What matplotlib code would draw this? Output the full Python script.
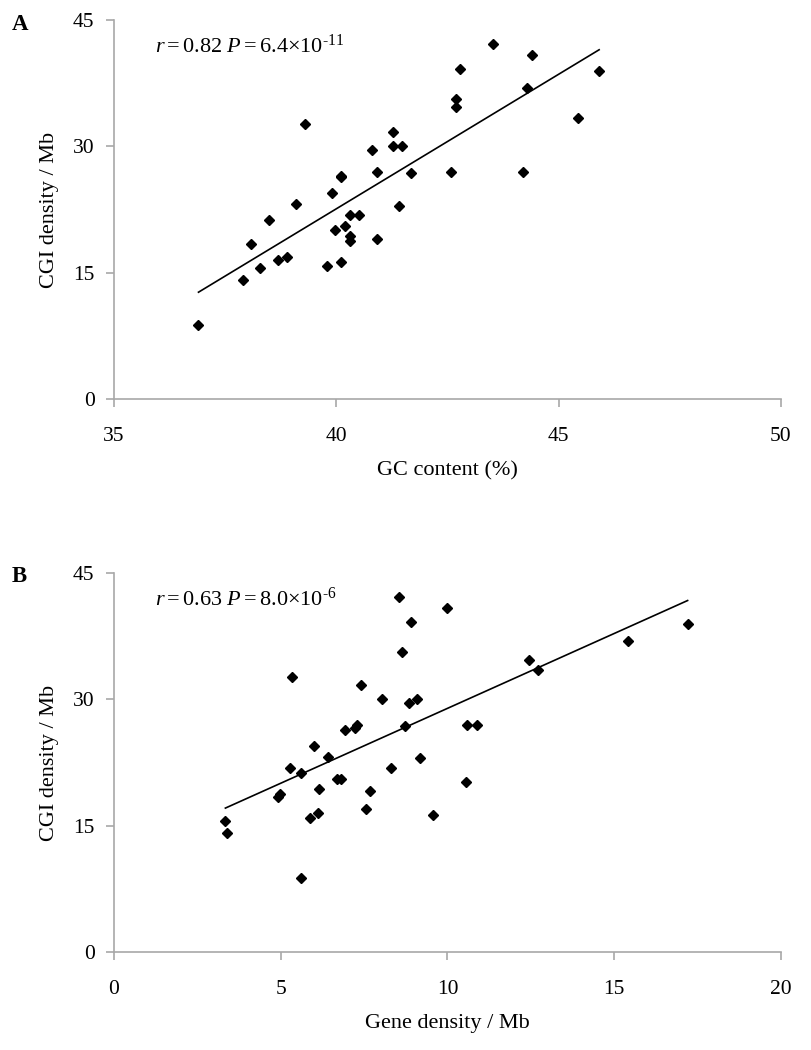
import numpy as np
import matplotlib
matplotlib.use('Agg')
import matplotlib.pyplot as plt

plt.rcParams['font.family'] = ['Liberation Serif', 'DejaVu Serif']
plt.rcParams['mathtext.fontset'] = 'custom'
plt.rcParams['mathtext.rm'] = 'Liberation Serif'
plt.rcParams['mathtext.it'] = 'Liberation Serif:italic'

# ── 데이터 ──
gc_content = [36.90, 37.91, 38.07, 38.28, 38.49, 38.69, 38.89, 39.09, 39.29, 39.79,
              39.91, 39.98, 40.11, 40.11, 40.11, 40.19, 40.31, 40.31, 40.31, 40.52,
              40.80, 40.92, 40.92, 41.28, 41.28, 41.48, 41.41, 41.69, 42.58, 42.70,
              42.70, 42.78, 43.52, 44.41, 44.28, 45.91, 45.43, 44.20]
cgi_a = [8.8, 14.1, 18.4, 15.6, 21.2, 16.5, 16.9, 23.1, 32.6, 15.8,
         24.4, 20.1, 26.5, 26.3, 16.3, 20.5, 21.85, 19.3, 18.8, 21.85,
         29.6, 27.0, 19.0, 31.7, 30.0, 30.0, 22.9, 26.8, 27.0, 35.6,
         34.7, 39.2, 42.2, 40.9, 36.9, 39.0, 33.4, 27.0]

gene_density = [3.34, 3.40, 4.91, 4.98, 5.29, 5.34, 5.62, 5.62, 5.88, 6.00,
                6.12, 6.16, 6.43, 6.68, 6.81, 6.92, 7.24, 7.29, 7.40, 7.56,
                7.68, 8.05, 8.32, 8.54, 8.64, 8.74, 8.85, 8.91, 9.08, 9.19,
                9.56, 10.00, 10.57, 10.54, 10.87, 12.43, 12.70, 15.41, 17.20]
cgi_b = [15.6, 14.1, 18.4, 18.8, 21.9, 32.6, 21.3, 8.8, 15.9, 24.4,
         16.5, 19.3, 23.2, 20.6, 20.6, 26.4, 26.6, 27.0, 31.7, 17.0,
         19.1, 30.0, 21.9, 42.2, 35.6, 26.8, 29.6, 39.2, 30.0, 23.0,
         16.3, 40.9, 27.0, 20.2, 27.0, 34.7, 33.5, 36.9, 39.0]

panels = [
    dict(tag='A', x=gc_content, y=cgi_a, xlim=(35, 50), xticks=[35, 40, 45, 50],
         xlabel='GC content (%)', note=r'$r = 0.82\ P = 6.4{\times}10^{\text{-}11}$'),
    dict(tag='B', x=gene_density, y=cgi_b, xlim=(0, 20), xticks=[0, 5, 10, 15, 20],
         xlabel='Gene density / Mb', note=r'$r = 0.63\ P = 8.0{\times}10^{\text{-}6}$'),
]

fig = plt.figure(figsize=(8.12, 10.5), dpi=100)
rects = [[114/812, 1 - 399/1050, 667/812, 379/1050],
         [114/812, 1 - 952/1050, 667/812, 379/1050]]
GRAY = '#a8a8a8'

for p, rect in zip(panels, rects):
    ax = fig.add_axes(rect)
    x = np.array(p['x']); y = np.array(p['y'])
    ax.plot(x, y, linestyle='none', marker='D', markersize=4.8, color='black')

    # 회귀선
    k, b = np.polyfit(x, y, 1)
    xs = np.array([x.min(), x.max()])
    ax.plot(xs, k*xs + b, color='black', linewidth=1.2)

    ax.set_xlim(*p['xlim'])
    ax.set_ylim(0, 45)
    ax.set_xticks(p['xticks'])
    ax.set_yticks([0, 15, 30, 45])
    for s in ['top', 'right']:
        ax.spines[s].set_visible(False)
    for s in ['left', 'bottom']:
        ax.spines[s].set_color(GRAY)
        ax.spines[s].set_linewidth(1.2)
    ax.tick_params(axis='both', colors=GRAY, labelcolor='black', labelsize=15.5,
                   length=6, width=1.2)
    ax.tick_params(axis='x', pad=14)
    ax.tick_params(axis='y', pad=8)
    ax.set_xlabel(p['xlabel'], fontsize=16, labelpad=11)
    ax.set_ylabel('CGI density / Mb', fontsize=16, labelpad=10)

    ax.text(0.062, 0.93, p['note'], transform=ax.transAxes, fontsize=16,
            ha='left', va='center')
    ax.text(12/812, rect[1] + rect[3] - 4/1050, p['tag'], transform=fig.transFigure,
            fontsize=16.5, fontweight='bold', ha='left', va='center')

fig.savefig('out.png', dpi=100)
